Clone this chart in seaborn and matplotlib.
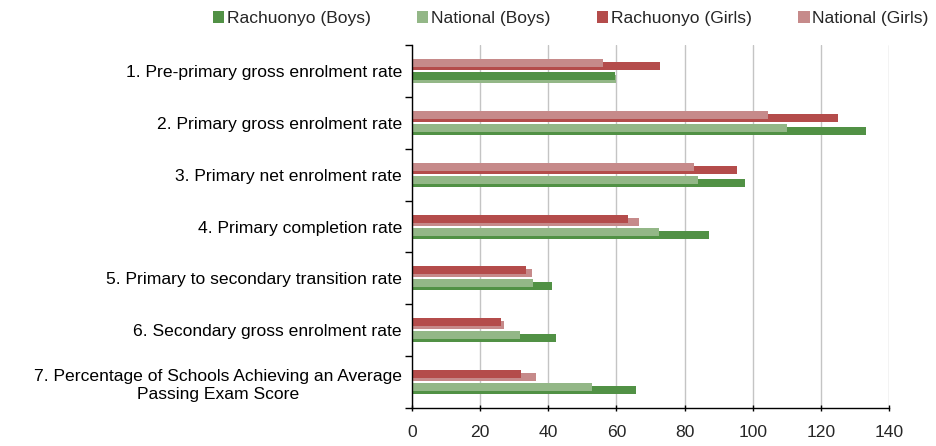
import numpy as np
import pandas as pd
import seaborn as sns
import matplotlib.pyplot as plt
from matplotlib.patches import Patch

# Values
categories = [
    '1. Pre-primary gross enrolment rate',
    '2. Primary gross enrolment rate',
    '3. Primary net enrolment rate',
    '4. Primary completion rate',
    '5. Primary to secondary transition rate',
    '6. Secondary gross enrolment rate',
    '7. Percentage of Schools Achieving an Average\nPassing Exam Score',
]
rach_boys = [59.5, 133.2, 97.6, 87.1, 41.1, 42.4, 65.6]
nat_boys = [60.0, 110.0, 83.8, 72.5, 35.5, 31.7, 52.9]
rach_girls = [72.8, 124.9, 95.4, 63.4, 33.6, 26.1, 31.9]
nat_girls = [56.2, 104.5, 82.7, 66.7, 35.3, 27.0, 36.4]

series_names = ['Rachuonyo (Boys)', 'National (Boys)', 'Rachuonyo (Girls)', 'National (Girls)']
colors = {
    'Rachuonyo (Boys)': '#519145',
    'National (Boys)': '#93b787',
    'Rachuonyo (Girls)': '#b44c4b',
    'National (Girls)': '#c68a8a',
}

sns.set_style('white')
plt.rcParams['font.family'] = ['Liberation Sans', 'DejaVu Sans']

fig = plt.figure(figsize=(9.36, 4.46), dpi=100)
ax = fig.add_axes([0.440, 0.085, 0.510, 0.814])

band = 52.0  # px per category
bar_w = 8 / band


def layer(pairs, pick_short, offset):
    rows = []
    for i in range(len(categories)):
        (na, va), (nb, vb) = [(p[0], p[1][i]) for p in pairs]
        a_short = va <= vb
        if pick_short:
            name, val = (na, va) if a_short else (nb, vb)
        else:
            name, val = (nb, vb) if a_short else (na, va)
        rows.append({'pos': i + offset / band, 'value': val, 'series': name})
    return pd.DataFrame(rows)


girls = [('National (Girls)', nat_girls), ('Rachuonyo (Girls)', rach_girls)]
boys = [('National (Boys)', nat_boys), ('Rachuonyo (Boys)', rach_boys)]

# longer bar sits lower and behind, shorter bar in front
layers = [
    layer(girls, False, -5),
    layer(girls, True, -8),
    layer(boys, False, 8),
    layer(boys, True, 5),
]
for df in layers:
    sns.barplot(data=df, x='value', y='pos', hue='series', palette=colors,
                orient='y', native_scale=True, dodge=False, width=bar_w,
                saturation=1, legend=False, linewidth=0, ax=ax)

fs = 12.6
ax.set_ylim(6.5, -0.5)
ax.set_xlim(0, 140)
ax.set_xticks(np.arange(0, 141, 20))
ax.set_yticks(range(len(categories)))
ax.set_yticklabels(categories, multialignment='center', linespacing=1.3)
ax.set_yticks(np.arange(-0.5, 7, 1), minor=True)
ax.tick_params(axis='y', which='major', length=0, pad=7, labelsize=fs, colors='black')
ax.tick_params(axis='y', which='minor', length=5, width=1, color='black', direction='out', left=True)
ax.tick_params(axis='x', length=5, width=1, color='black', direction='inout', bottom=True, labelsize=fs, pad=10)
ax.set_xlabel('')
ax.set_ylabel('')
ax.grid(axis='x', color='#c4c4c4', linewidth=1)
ax.set_axisbelow(True)
for s in ['top', 'right']:
    ax.spines[s].set_visible(False)
for s in ['left', 'bottom']:
    ax.spines[s].set_color('black')
    ax.spines[s].set_linewidth(1)

handles = [Patch(facecolor=colors[n], edgecolor='none', label=n) for n in series_names]
fig.legend(handles=handles, loc='upper right', bbox_to_anchor=(1.009, 1.01), ncol=4,
           frameon=False, fontsize=fs, handlelength=0.65, handleheight=0.65,
           handletextpad=0.15, columnspacing=2.65)

fig.savefig('out.png', dpi=100)
